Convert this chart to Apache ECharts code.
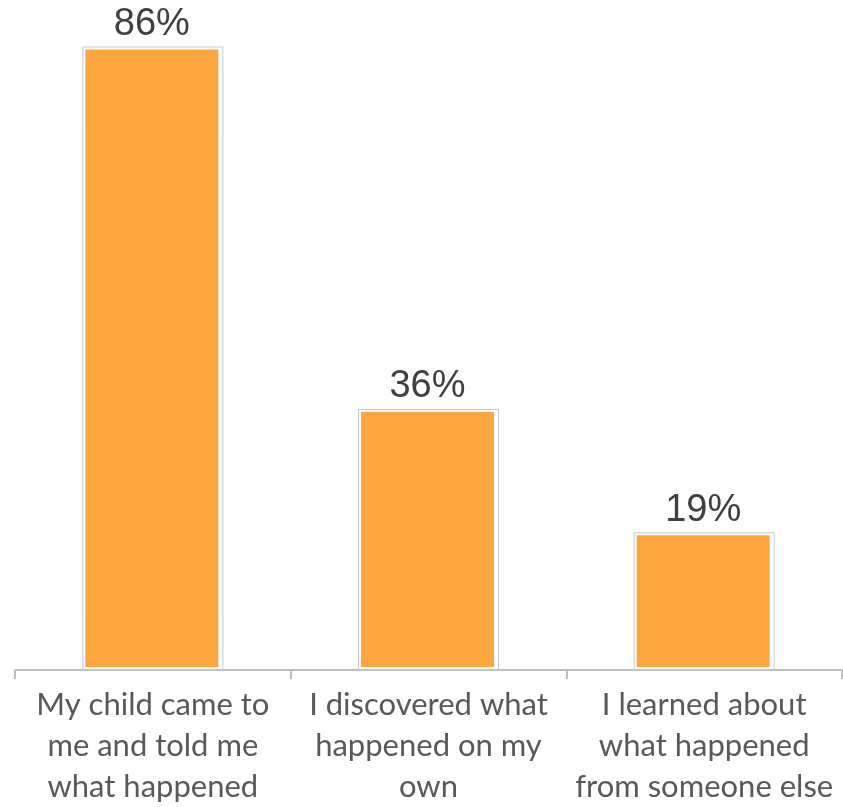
<!DOCTYPE html>
<html><head><meta charset="utf-8">
<script src="https://cdn.jsdelivr.net/npm/echarts@6/dist/echarts.min.js"></script>
<style>html,body{margin:0;padding:0;background:#fff}#c{width:843px;height:807px}</style>
</head><body><div id="c"></div>
<script>
const categories = ["My child came to\nme and told me\nwhat happened", "I discovered what\nhappened on my\nown", "I learned about\nwhat happened\nfrom someone else"];
const values = [86, 36, 19];
const chart = echarts.init(document.getElementById('c'));
chart.setOption({
  animation: false,
  grid: {left: 15, right: 1, top: 17.5, bottom: 137},
  xAxis: {
    type: 'category', data: categories,
    axisLine: {lineStyle: {color: '#bfbfbf', width: 2}},
    axisTick: {show: true, length: 9, lineStyle: {color: '#bfbfbf', width: 2}},
    axisLabel: {color: '#595959', fontFamily: 'Lato', fontSize: 31, lineHeight: 41, margin: 14, interval: 0}
  },
  yAxis: {type: 'value', min: 0, max: 90, show: false, splitLine: {show: false}},
  series: [{
    type: 'bar', data: values, barWidth: 139,
    itemStyle: {color: '#FBA63E', borderColor: '#ffffff', borderWidth: 3},
    label: {show: true, position: 'top', distance: 3, formatter: '{c}%', color: '#404040', fontFamily: 'Liberation Sans', fontSize: 38}
  }, {
    type: 'bar', data: values, barWidth: 141, barGap: '-100%', silent: true,
    itemStyle: {color: 'transparent', borderColor: '#c8c8c8', borderWidth: 1}
  }]
});
</script></body></html>
